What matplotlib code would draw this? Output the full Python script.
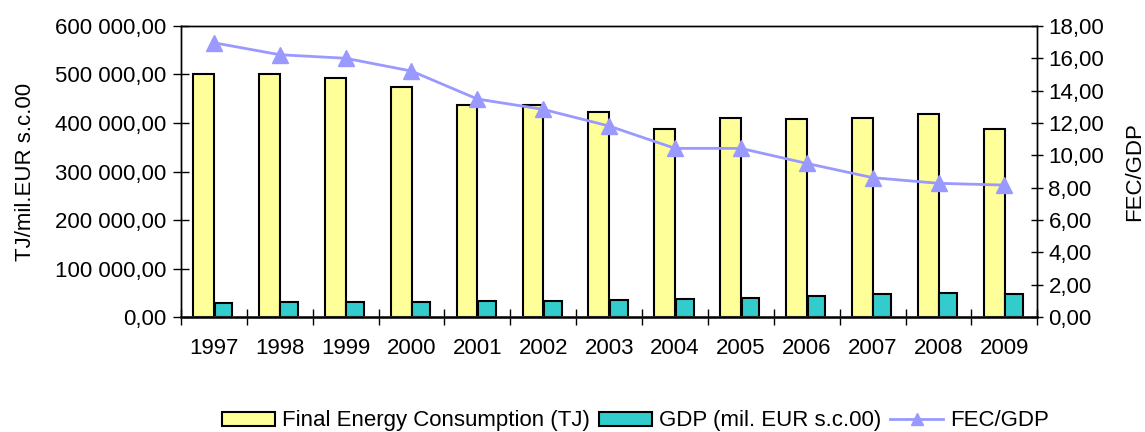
import matplotlib
matplotlib.use("Agg")
import matplotlib.pyplot as plt
import numpy as np
from matplotlib.ticker import FuncFormatter, FixedLocator

plt.rcParams["font.family"] = ["Liberation Sans", "DejaVu Sans"]
plt.rcParams["font.size"] = 16

years = ["1997", "1998", "1999", "2000", "2001", "2002", "2003",
         "2004", "2005", "2006", "2007", "2008", "2009"]
fec = [500000, 500000, 492800, 474200, 436500, 437100, 422000,
       388300, 411000, 407600, 411000, 418000, 388300]
gdp = [29500, 30800, 30800, 31200, 32400, 34000, 35700,
       37200, 39400, 42900, 47700, 50500, 47600]
ratio = [16.96, 16.22, 16.00, 15.21, 13.48, 12.84, 11.81,
         10.43, 10.43, 9.50, 8.62, 8.27, 8.16]


def fmt_space(v, pos):
    s = "{:,.2f}".format(v)
    return s.replace(",", " ").replace(".", ",")


x = np.arange(len(years))

fig = plt.figure(figsize=(11.45, 4.32), dpi=100)
ax = fig.add_axes([0.158, 0.266, 0.748, 0.674])

b1 = ax.bar(x - 0.156, fec, width=0.315, color="#FFFF99", edgecolor="black",
            linewidth=1.5, label="Final Energy Consumption (TJ)", zorder=2)
b2 = ax.bar(x + 0.146, gdp, width=0.27, color="#33CCCC", edgecolor="black",
            linewidth=1.5, label="GDP (mil. EUR s.c.00)", zorder=2)

ax.set_xlim(-0.5, len(years) - 0.5)
ax.set_ylim(0, 600000)
ax.set_yticks(np.arange(0, 600001, 100000))
ax.yaxis.set_major_formatter(FuncFormatter(fmt_space))
ax.set_ylabel("TJ/mil.EUR s.c.00", labelpad=14)

ax.set_xticks(x)
ax.set_xticklabels(years)
ax.tick_params(axis="x", length=0, pad=15)
ax.xaxis.set_minor_locator(FixedLocator(np.arange(-0.5, len(years), 1.0)))
ax.tick_params(axis="x", which="minor", direction="inout", length=11, width=1)
ax.tick_params(axis="y", direction="inout", length=11, width=1, pad=5)

ax2 = ax.twinx()
ln, = ax2.plot(x, ratio, color="#9999FF", marker="^", markersize=11,
               linewidth=2, label="FEC/GDP", zorder=3)
ax2.set_ylim(0, 18)
ax2.set_yticks(np.arange(0, 18.1, 2))
ax2.yaxis.set_major_formatter(FuncFormatter(lambda v, p: "{:.2f}".format(v).replace(".", ",")))
ax2.tick_params(axis="y", direction="inout", length=9, width=1)
ax2.set_ylabel("FEC/GDP", labelpad=14)

for a in (ax, ax2):
    for s in a.spines.values():
        s.set_linewidth(1)
ax.spines["bottom"].set_linewidth(2)
ax.spines["bottom"].set_color("#333333")

fig.legend(handles=[b1, b2, ln], loc="lower center", ncol=3, frameon=False,
           bbox_to_anchor=(0.555, -0.045), handlelength=2.4, handleheight=0.6,
           columnspacing=0.4, handletextpad=0.3, markerscale=0.75)

fig.savefig("out.png", dpi=100)
